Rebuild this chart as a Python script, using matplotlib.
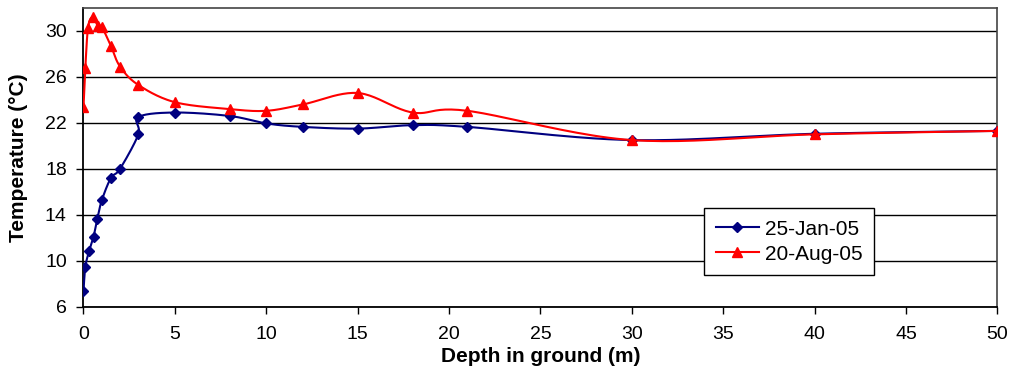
# -*- coding: utf-8 -*-
import matplotlib
matplotlib.use("Agg")
import matplotlib.pyplot as plt
from numpy import linspace, vstack, column_stack, concatenate

# Depth profiles of ground temperature
depth_jan = [0, 0.1, 0.3, 0.55, 0.75, 1.0, 1.5, 2, 3, 3, 5, 8, 10, 12, 15, 18, 21, 30, 40, 50]
temp_jan = [7.35, 9.45, 10.8, 12.1, 13.6, 15.25, 17.2, 18.0, 21.0, 22.5, 22.9, 22.6,
            21.95, 21.65, 21.5, 21.8, 21.65, 20.5, 21.05, 21.3]

depth_aug = [0, 0.1, 0.25, 0.5, 0.8, 1.0, 1.5, 2, 3, 5, 8, 10, 12, 15, 18, 21, 30, 40, 50]
temp_aug = [23.4, 26.8, 30.3, 31.2, 30.4, 30.35, 28.7, 26.9, 25.3, 23.8, 23.2, 23.05,
            23.6, 24.6, 22.9, 23.05, 20.5, 21.0, 21.3]

series_labels = ["25-Jan-05", "20-Aug-05"]
y_ticks = [6, 10, 14, 18, 22, 26, 30]
x_ticks = [0, 5, 10, 15, 20, 25, 30, 35, 40, 45, 50]


def smooth(x, y, n=24):
    """Excel-like smoothed line (Catmull-Rom Bezier through the points)"""
    pts = column_stack([x, y]).astype(float)
    P = vstack([pts[0], pts, pts[-1]])
    t = linspace(0, 1, n)[:, None]
    out = [pts[:1]]
    for i in range(len(pts) - 1):
        p0, p1, p2, p3 = P[i], P[i + 1], P[i + 2], P[i + 3]
        c1 = p1 + (p2 - p0) / 6.0
        c2 = p2 - (p3 - p1) / 6.0
        seg = ((1 - t) ** 3) * p1 + 3 * ((1 - t) ** 2) * t * c1 + 3 * (1 - t) * t ** 2 * c2 + t ** 3 * p2
        out.append(seg[1:])
    res = concatenate(out)
    return res[:, 0], res[:, 1]


plt.rcParams["font.family"] = ["Liberation Sans", "DejaVu Sans"]

fig = plt.figure(figsize=(10.17, 3.73), dpi=100)
ax = fig.add_axes([0.0821, 0.178, 0.8987, 0.8005])

# Smoothed lines
xs, ys = smooth(depth_jan, temp_jan)
ax.plot(xs, ys, color="#000080", linewidth=1.5, zorder=3)
xs, ys = smooth(depth_aug, temp_aug)
ax.plot(xs, ys, color="#ff0000", linewidth=1.5, zorder=4)

# Markers
ax.plot(depth_jan, temp_jan, linestyle="none", marker="D", markersize=5,
        color="#000080", zorder=3)
ax.plot(depth_aug, temp_aug, linestyle="none", marker="^", markersize=7.5,
        color="#ff0000", zorder=4)

# Legend handles
ax.plot([], [], color="#000080", linewidth=1.5, marker="D", markersize=5, label=series_labels[0])
ax.plot([], [], color="#ff0000", linewidth=1.5, marker="^", markersize=7.5, label=series_labels[1])

ax.set_xlim(0, 50)
ax.set_ylim(6, 32)
ax.set_xticks(x_ticks)
ax.set_yticks(y_ticks)
ax.yaxis.grid(True, color="black", linewidth=1.0)
ax.set_axisbelow(True)

ax.tick_params(direction="out", length=5, width=1, labelsize=14, colors="black")
ax.tick_params(axis="x", pad=9)
ax.tick_params(axis="y", pad=7)
for side in ["left", "bottom"]:
    ax.spines[side].set_color("black")
    ax.spines[side].set_linewidth(1.3)
for side in ["top", "right"]:
    ax.spines[side].set_color("#444444")
    ax.spines[side].set_linewidth(1.2)

ax.set_xlabel("Depth in ground (m)", fontsize=15, fontweight="bold", labelpad=3)
ax.set_ylabel("Temperature (°C)", fontsize=15, fontweight="bold", labelpad=12)

leg = ax.legend(loc="upper left", bbox_to_anchor=(0.679, 0.33), borderaxespad=0,
                fontsize=15, frameon=True, fancybox=False, edgecolor="black",
                framealpha=1, handlelength=2.1, borderpad=0.55, labelspacing=0.3,
                handletextpad=0.25)
leg.get_frame().set_linewidth(1.0)
leg.set_zorder(10)

plt.savefig("out.png", dpi=100)
